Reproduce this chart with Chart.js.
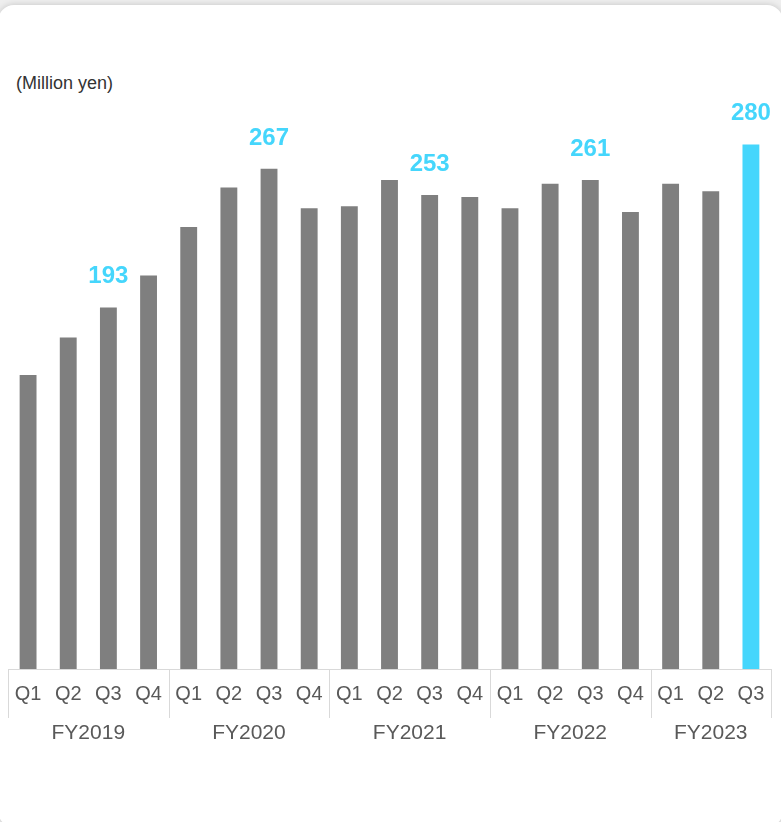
<!DOCTYPE html>
<html>
<head>
<meta charset="utf-8">
<script src="https://cdn.jsdelivr.net/npm/chart.js@4.4.1/dist/chart.umd.min.js"></script>
<style>
    body { margin: 0; width: 781px; height: 822px; overflow: hidden; background: #eeeeee; position: relative; }
    .card { position: absolute; top: 5px; left: -2px; width: 785px; height: 822px; background: #fff;
            border-radius: 16px; box-shadow: 0 0 6px rgba(0,0,0,0.18); }
    .unit { position: absolute; left: 16px; top: 74px; font: 18px 'Liberation Sans', Arial, sans-serif;
            line-height: 18px; color: #333; }
    canvas { position: absolute; left: 0; top: 0; }
</style>
</head>
<body>
<div class="card"></div>
<div class="unit">(Million yen)</div>
<canvas id="salesChart" width="781" height="822"></canvas>
<script>
// Chart data
const quarters = ['Q1', 'Q2', 'Q3', 'Q4', 'Q1', 'Q2', 'Q3', 'Q4', 'Q1', 'Q2', 'Q3', 'Q4',
                  'Q1', 'Q2', 'Q3', 'Q4', 'Q1', 'Q2', 'Q3'];
const fiscalYears = ['FY2019', 'FY2020', 'FY2021', 'FY2022', 'FY2023'];
const quartersPerYear = [4, 4, 4, 4, 3];
const sales = [157, 177, 193, 210, 236, 257, 267, 246, 247, 261, 253, 252,
               246, 259, 261, 244, 259, 255, 280];
const labeledBars = [2, 6, 10, 14, 18];

const GRAY = '#7f7f7f';
const CYAN = '#45d6fc';
const LINE = '#d9d9d9';
const FONT = "'Liberation Sans', Arial, sans-serif";

// value labels above the Q3 bars + FY group labels and separators
const decorPlugin = {
    id: 'decor',
    afterDraw(chart) {
        const ctx = chart.ctx;
        const x = chart.scales.x;
        const meta = chart.getDatasetMeta(0);
        const base = chart.chartArea.bottom;

        ctx.save();
        ctx.fillStyle = CYAN;
        ctx.font = 'bold 24px ' + FONT;
        ctx.textAlign = 'center';
        ctx.textBaseline = 'alphabetic';
        labeledBars.forEach(i => {
            const bar = meta.data[i];
            ctx.fillText(String(sales[i]), bar.x, bar.y - 24);
        });

        ctx.strokeStyle = LINE;
        ctx.lineWidth = 1;
        ctx.fillStyle = '#595959';
        ctx.font = '21px ' + FONT;
        ctx.textBaseline = 'middle';
        let start = 0;
        const drawSep = (px) => {
            const xx = Math.round(px) + 0.5;
            ctx.beginPath();
            ctx.moveTo(xx, base);
            ctx.lineTo(xx, base + 49);
            ctx.stroke();
        };
        fiscalYears.forEach((fy, k) => {
            const end = start + quartersPerYear[k] - 1;
            drawSep(x.getPixelForValue(start - 0.5));
            ctx.fillText(fy, x.getPixelForValue((start + end) / 2), base + 64);
            start = end + 1;
        });
        drawSep(x.getPixelForValue(start - 0.5));
        ctx.restore();
    }
};

new Chart(document.getElementById('salesChart'), {
    type: 'bar',
    data: {
        labels: quarters,
        datasets: [{
            data: sales,
            backgroundColor: sales.map((v, i) => i === sales.length - 1 ? CYAN : GRAY),
            borderWidth: 0,
            barPercentage: 0.42,
            categoryPercentage: 1.0
        }]
    },
    options: {
        responsive: false,
        animation: false,
        layout: { padding: { left: 8, right: 10, top: 107, bottom: 105 } },
        scales: {
            x: {
                grid: { display: false, drawTicks: false },
                border: { display: true, color: LINE, width: 1 },
                ticks: {
                    color: '#595959',
                    font: { family: FONT, size: 20 },
                    padding: 13,
                    maxRotation: 0,
                    autoSkip: false
                },
                afterFit: (scale) => { scale.height = 48; }
            },
            y: { display: false, min: 0, max: 300 }
        },
        plugins: {
            legend: { display: false },
            tooltip: { enabled: false }
        }
    },
    plugins: [decorPlugin]
});
</script>
</body>
</html>
